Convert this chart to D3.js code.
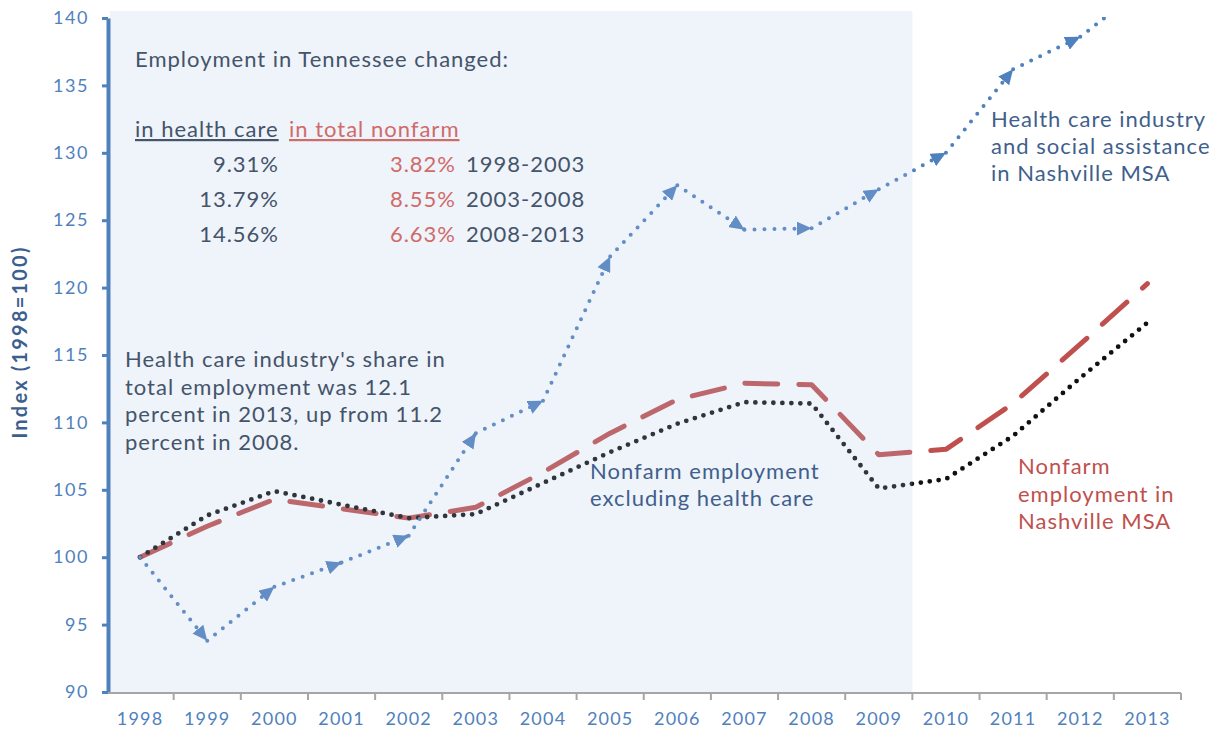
<!DOCTYPE html>
<html>
<head>
<meta charset="utf-8">
<script src="https://cdn.jsdelivr.net/npm/d3@7"></script>
<style>
  body { margin: 0; background: #fff; }
  svg text { font-family: Lato, "Open Sans", sans-serif; }
</style>
</head>
<body>
<svg id="chart" width="1217" height="734"></svg>
<script>
// Index values, 1998 = 100
const years = [1998, 1999, 2000, 2001, 2002, 2003, 2004, 2005, 2006, 2007, 2008, 2009, 2010, 2011, 2012, 2013];
const healthCare = [100, 93.8, 97.8, 99.6, 101.6, 109.2, 111.6, 122.3, 127.6, 124.3, 124.4, 127.3, 130.0, 136.2, 138.6, 142.5];
const nonfarmTotal = [100, 102.3, 104.3, 103.6, 102.9, 103.7, 106.3, 109.2, 111.7, 112.9, 112.8, 107.6, 108.0, 111.4, 115.8, 120.3];
const nonfarmExHealth = [100, 103.1, 104.9, 103.9, 102.9, 103.2, 105.5, 107.8, 109.9, 111.5, 111.4, 105.1, 105.8, 109.0, 113.3, 117.4];
const yTicks = [90, 95, 100, 105, 110, 115, 120, 125, 130, 135, 140];

// Tennessee employment change table
const changeHealth = ["9.31%", "13.79%", "14.56%"];
const changeNonfarm = ["3.82%", "8.55%", "6.63%"];
const changePeriods = ["1998-2003", "2003-2008", "2008-2013"];
const shadeLastYear = 2009;

const svg = d3.select("#chart");
const plotLeft = 108, plotRight = 1181, plotTop = 18, plotBottom = 692;

const xBand = d3.scaleBand().domain(years).range([106.5, plotRight]).padding(0);
const xc = yr => xBand(yr) + xBand.bandwidth() / 2;
const y = d3.scaleLinear().domain([90, 140]).range([plotBottom, plotTop]);

const BLUE = "#4f81bd", RED = "#c0504d", INK = "#44546a", INK_BLUE = "#3f5f8c", SOFT_RED = "#cf6b69";

const defs = svg.append("defs");
defs.append("clipPath").attr("id", "plot-clip")
  .append("rect").attr("x", plotLeft).attr("y", plotTop - 1)
  .attr("width", plotRight - plotLeft).attr("height", plotBottom - plotTop + 1);

const marker = defs.append("marker")
  .attr("id", "arrow").attr("viewBox", "0 0 15 14").attr("refX", 15).attr("refY", 7)
  .attr("markerWidth", 15).attr("markerHeight", 14).attr("markerUnits", "userSpaceOnUse")
  .attr("orient", "auto");
marker.append("path").attr("d", "M0,0 L15,7 L0,14 Z").attr("fill", BLUE);

const series = svg.append("g").attr("clip-path", "url(#plot-clip)");
const line = d3.line().x((d, i) => xc(years[i])).y(d => y(d));

// nonfarm employment in Nashville MSA (dashed)
series.append("path").datum(nonfarmTotal).attr("d", line)
  .attr("fill", "none").attr("stroke", RED).attr("stroke-width", 5)
  .attr("stroke-dasharray", "33 21").attr("stroke-linecap", "round").attr("stroke-linejoin", "round");

// nonfarm excluding health care (dotted)
series.append("path").datum(nonfarmExHealth).attr("d", line)
  .attr("fill", "none").attr("stroke", "#111").attr("stroke-width", 4.8)
  .attr("stroke-dasharray", "0 9").attr("stroke-linecap", "round");

// health care and social assistance: one arrowed dotted segment per year
const segs = healthCare.slice(1).map((v, i) => ({ x0: xc(years[i]), y0: y(healthCare[i]), x1: xc(years[i + 1]), y1: y(v) }));
series.selectAll("line.hc").data(segs).join("line").attr("class", "hc")
  .attr("x1", d => d.x0).attr("y1", d => d.y0).attr("x2", d => d.x1).attr("y2", d => d.y1)
  .attr("stroke", BLUE).attr("stroke-width", 4).attr("stroke-dasharray", "0 10")
  .attr("stroke-linecap", "round").attr("marker-end", "url(#arrow)");

// translucent band over 1998-2009
svg.append("rect")
  .attr("x", plotLeft + 2).attr("y", plotTop - 7)
  .attr("width", xBand(shadeLastYear) + xBand.bandwidth() - plotLeft - 2)
  .attr("height", plotBottom - plotTop + 7)
  .attr("fill", "#afc3e6").attr("fill-opacity", 0.2);

// y axis
const yAxis = svg.append("g").attr("transform", `translate(${plotLeft},0)`)
  .call(d3.axisLeft(y).tickValues(yTicks).tickSize(6).tickPadding(13).tickSizeOuter(0));
yAxis.select(".domain").attr("stroke", BLUE).attr("stroke-width", 4);
yAxis.selectAll(".tick line").attr("stroke", BLUE).attr("stroke-width", 3);
yAxis.selectAll(".tick text").attr("fill", BLUE).attr("font-size", 18)
  .attr("letter-spacing", 1.6).attr("font-family", "Lato, sans-serif");

// x axis: labels centered in each year, ticks on the boundaries
const xAxis = svg.append("g").attr("transform", `translate(0,${plotBottom + 1})`)
  .call(d3.axisBottom(xBand).tickSize(0).tickPadding(19));
xAxis.select(".domain").attr("stroke", "#a6a6a6").attr("stroke-width", 2)
  .attr("d", `M${plotLeft},0H${plotRight}`);
xAxis.selectAll(".tick text").attr("fill", BLUE).attr("font-size", 18)
  .attr("letter-spacing", 1.2).attr("font-family", "Lato, sans-serif");
xAxis.selectAll("line.bound").data(years).join("line").attr("class", "bound")
  .attr("x1", d => xBand(d) + xBand.bandwidth()).attr("x2", d => xBand(d) + xBand.bandwidth())
  .attr("y1", 0).attr("y2", 7).attr("stroke", "#a6a6a6").attr("stroke-width", 2);

// y axis title
svg.append("text").attr("transform", "translate(27,342) rotate(-90)")
  .attr("text-anchor", "middle").attr("font-size", 20).attr("font-weight", "bold")
  .attr("letter-spacing", 2.2).attr("fill", "#3d5f8f").text("Index (1998=100)");

// annotation: Tennessee change table
const fs = 22, ls = 1;
function label(x, yy, txt, color, anchor) {
  return svg.append("text").attr("x", x).attr("y", yy).attr("font-size", fs)
    .attr("letter-spacing", ls).attr("fill", color).attr("text-anchor", anchor || "start").text(txt);
}
label(135, 67, "Employment in Tennessee changed:", INK);
label(135, 137, "in health care", INK).attr("text-decoration", "underline");
label(289, 137, "in total nonfarm", SOFT_RED).attr("text-decoration", "underline");
const rowY = [172, 207, 242];
changeHealth.forEach((t, i) => {
  label(279, rowY[i], t, INK, "end");
  label(456, rowY[i], changeNonfarm[i], SOFT_RED, "end");
  label(466, rowY[i], changePeriods[i], INK);
});

function block(x, y0, lines, color, lh) {
  const t = svg.append("text").attr("x", x).attr("y", y0).attr("font-size", fs)
    .attr("letter-spacing", ls).attr("fill", color);
  lines.forEach((s, i) => t.append("tspan").attr("x", x).attr("dy", i === 0 ? 0 : lh).text(s));
}
block(125, 367, ["Health care industry's share in", "total employment was 12.1", "percent in 2013, up from 11.2", "percent in 2008."], INK, 27.7);
block(590, 479, ["Nonfarm employment", "excluding health care"], INK_BLUE, 27);
block(1018, 474, ["Nonfarm", "employment in", "Nashville MSA"], RED, 27.5);
block(991, 127, ["Health care industry", "and social assistance", "in Nashville MSA"], INK_BLUE, 27);
</script>
</body>
</html>
